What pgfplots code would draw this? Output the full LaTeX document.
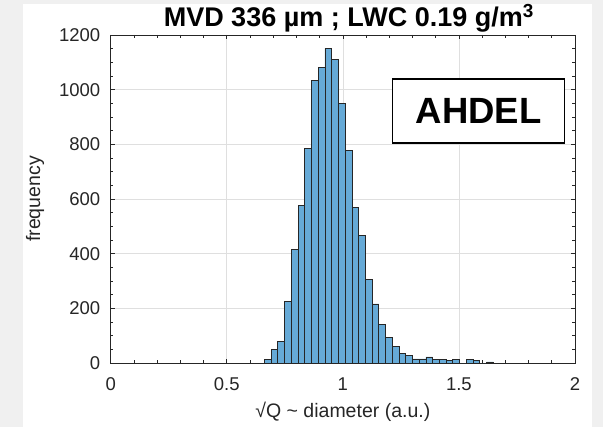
\documentclass[border=0pt]{standalone}
\usepackage{pgfplots}
\pgfplotsset{compat=1.18}
\usepackage{fontspec}
\setmainfont{Liberation Sans}
\definecolor{barfill}{RGB}{102,170,215}
\definecolor{axcol}{RGB}{38,38,38}
\definecolor{gridcol}{RGB}{223,223,223}
\definecolor{bggray}{RGB}{240,240,240}
\pgfplotstableread{
x y
0.662 14
0.691 51
0.720 78
0.749 224
0.778 417
0.807 578
0.836 785
0.865 1033
0.894 1081
0.923 1151
0.952 1109
0.981 948
1.010 779
1.039 568
1.068 468
1.097 306
1.126 216
1.155 141
1.184 94
1.213 61
1.242 34
1.271 27
1.300 15
1.329 15
1.358 22
1.387 14
1.416 14
1.445 9
1.474 14
1.503 0
1.532 14
1.561 10
1.590 0
1.619 4
1.648 0
}\histdata
\begin{document}
\begin{tikzpicture}
\useasboundingbox (-110.7bp,-64bp) rectangle (492.3bp,363bp);
\fill[bggray] (-110.7bp,-64bp) rectangle (492.3bp,363bp);
\fill[white] (-87.7bp,-64bp) rectangle (481.3bp,359bp);
\begin{axis}[
  at={(0,0)}, anchor=south west,
  scale only axis, width=464.3bp, height=328bp,
  xmin=0, xmax=2, ymin=0, ymax=1200,
  xtick={0,0.5,1,1.5,2}, xticklabels={0,0.5,1,1.5,2},
  ytick={0,200,400,600,800,1000,1200},
  yticklabels={0,200,400,600,800,1000,1200},
  minor x tick num=4, minor y tick num=3,
  tick align=inside,
  major tick length=4.5bp, minor tick length=2.8bp,
  grid=major,
  major grid style={draw=gridcol, line width=0.7bp},
  axis line style={draw=axcol, line width=0.7bp},
  every tick/.style={draw=axcol, line width=0.6bp},
  ticklabel style={text=axcol, font=\fontsize{18.5bp}{22bp}\selectfont},
  xticklabel style={yshift=-11bp},
  yticklabel style={xshift=-7bp},
  xlabel={\fontsize{19.5bp}{23bp}\selectfont √Q \textasciitilde{} diameter (a.u.)},
  ylabel={\fontsize{19.5bp}{23bp}\selectfont frequency},
  label style={text=axcol},
  xlabel style={at={(axis description cs:0.5,0)}, anchor=center, yshift=-49bp},
  ylabel style={at={(axis description cs:-0.163,0.5)}, anchor=center},
  title={\bfseries\fontsize{27bp}{31bp}\selectfont MVD 336 µm ; LWC 0.19 g/m\textsuperscript{3}},
  title style={at={(axis description cs:0.5,1)}, anchor=center, yshift=11bp, xshift=6bp},
]
\addplot[ybar interval, fill=barfill, draw=black!85, line width=0.8bp] table[x=x,y=y] {\histdata};
\node[draw=black, line width=1.3bp, fill=white, minimum width=172bp, minimum height=64bp, inner sep=0pt,
  font=\bfseries\fontsize{36.5bp}{40bp}\selectfont] at (axis cs:1.5855,921.5) {AHDEL};
\end{axis}
\end{tikzpicture}
\end{document}
